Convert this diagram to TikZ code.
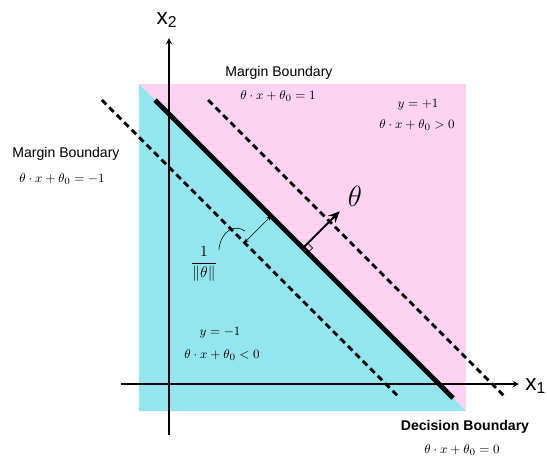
\documentclass[tikz,border=0pt]{standalone}
\usepackage{amsmath,amssymb}
\usepackage{fontspec}
\setsansfont{Liberation Sans}
\usetikzlibrary{calc, arrows.meta}
\definecolor{posregion}{RGB}{252,212,242}
\definecolor{negregion}{RGB}{148,230,238}

\begin{document}
\begin{tikzpicture}[>=stealth, font=\small]
	% --- Parametri Geometrici ---
	\def\bnd{6.75}   % x+y lungo il decision boundary
	\def\mrg{1.33}   % scarto dei margini (in x+y)
	\def\yTop{7.1}
	\def\yBot{-0.35}
	\def\sqL{-0.75}
	\def\sqR{7.425}
	\def\sqB{-0.675}
	\def\sqT{7.5}
	
	% --- Stili ---
	\tikzset{
		axis/.style={draw=black, line width=1pt},
		axislabel/.style={font=\fontsize{16}{16}\selectfont\sffamily, inner sep=0pt},
		decision/.style={draw=black, line width=3.5pt},
		marginline/.style={draw=black, line width=2pt, dash pattern=on 4.5pt off 3pt},
		caption/.style={font=\fontsize{10}{12}\selectfont\sffamily, inner sep=1pt},
		captionbold/.style={caption, font=\fontsize{10}{12}\selectfont\sffamily\bfseries},
		formula/.style={font=\fontsize{9.5}{11}\selectfont, inner sep=1pt},
		normalarrow/.style={-{Stealth[length=8pt, width=7pt]}, draw=black, line width=1.4pt},
	}
	
	\useasboundingbox (-4.225,-1.875) rectangle (9.45,9.6);
	
	% --- Regioni ---
	\fill[posregion] (\sqL,\sqB) rectangle (\sqR,\sqT);
	\fill[negregion] (\sqL,\sqB) -- (\sqL,\sqT) -- (\sqR,\sqB) -- cycle;
	
	% --- Assi ---
	\draw[axis, ->] (-1.2,0) -- (8.75,0) coordinate (x1end);
	\draw[axis, ->] (0,-1.275) -- (0,8.65) coordinate (x2end);
	\node[axislabel, anchor=west] (x1lab) at (8.9,-0.05) {x\textsubscript{1}};
	\node[axislabel] (x2lab) at (-0.05,9.1) {x\textsubscript{2}};
	
	% --- Boundaries ---
	\draw[marginline] ({\bnd-\mrg-\yTop},\yTop) -- ({\bnd-\mrg-\yBot},\yBot);
	\draw[marginline] ({\bnd+\mrg-\yTop},\yTop) -- ({\bnd+\mrg-\yBot},\yBot);
	\draw[decision] ({\bnd-\yTop},\yTop) -- ({\bnd-\yBot},\yBot);
	
	% --- Vettore theta ---
	\coordinate (F) at (3.35,{\bnd-3.35});
	\draw[normalarrow] (F) -- ++(45:1.3) coordinate (T);
	\draw[thin] ($(F)+(-45:0.17)$) -- ++(45:0.17) -- ++(135:0.17);
	\node[font=\fontsize{22}{22}\selectfont] (thetalab) at (4.65,4.7) {$\theta$};
	
	% --- Margine ---
	\coordinate (G) at (2.55,{\bnd-2.55});
	\draw[<->, thin] (G) -- ++(225:{\mrg/sqrt(2)}) coordinate (H);
	\node[formula, font=\fontsize{11}{13}\selectfont] (frac) at (0.875,3.0) {$\displaystyle\frac{1}{\|\theta\|}$};
	\draw[thin] ($(frac.north east)+(0.0,-0.12)$) .. controls (1.3,3.85) and (1.65,4.0) .. (1.9,3.825);
	
	% --- Etichette ---
	\node[caption] (topcap) at (2.75,7.775) {Margin Boundary};
	\node[formula] (topeq) at (2.725,7.2) {$\theta\cdot x+\theta_0=1$};
	\node[caption] (leftcap) at (-2.575,5.75) {Margin Boundary};
	\node[formula] (lefteq) at (-2.675,5.125) {$\theta\cdot x+\theta_0=-1$};
	\node[formula] (poslab) at (6.225,6.975) {$y=+1$};
	\node[formula] (poseq) at (6.2,6.475) {$\theta\cdot x+\theta_0>0$};
	\node[formula] (neglab) at (1.275,1.275) {$y=-1$};
	\node[formula] (negeq) at (1.325,0.725) {$\theta\cdot x+\theta_0<0$};
	\node[captionbold] (deccap) at (7.4,-1.075) {Decision Boundary};
	\node[formula] (deceq) at (7.325,-1.65) {$\theta\cdot x+\theta_0=0$};
\end{tikzpicture}
\end{document}
